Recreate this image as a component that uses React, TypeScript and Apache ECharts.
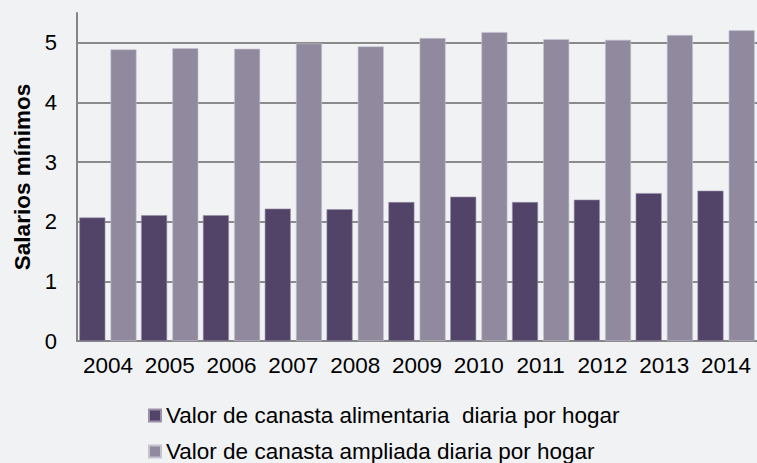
import React, { useEffect, useRef } from "react";
import * as echarts from "echarts";

const categories = ["2004", "2005", "2006", "2007", "2008", "2009", "2010", "2011", "2012", "2013", "2014"];
const alimentaria = [2.07, 2.11, 2.11, 2.22, 2.21, 2.33, 2.42, 2.33, 2.37, 2.48, 2.52];
const ampliada = [4.89, 4.91, 4.9, 4.99, 4.94, 5.08, 5.18, 5.06, 5.05, 5.13, 5.21];
const seriesNames = [
  "Valor de canasta alimentaria  diaria por hogar",
  "Valor de canasta ampliada diaria por hogar",
];
const yAxisTitle = "Salarios mínimos";

const FONT = "'Liberation Sans', Arial, sans-serif";
const FS = 22.5;

export default function App() {
  const ref = useRef<HTMLDivElement>(null);
  useEffect(() => {
    if (!ref.current) return;
    const chart = echarts.init(ref.current, undefined, { renderer: "svg" });
    const legendBase = {
      left: 148,
      itemWidth: 12,
      itemHeight: 12,
      itemGap: 10,
      padding: 0,
      icon: "rect",
      textStyle: { fontSize: FS, lineHeight: 22, color: "#000", fontFamily: FONT },
    };
    chart.setOption({
      animation: false,
      backgroundColor: "#f1f2f4",
      textStyle: { fontFamily: FONT },
      grid: { left: 77, top: 13, right: 0, bottom: 122, containLabel: false },
      legend: [
        { ...legendBase, top: 404, data: [seriesNames[0]] },
        { ...legendBase, top: 440, data: [seriesNames[1]] },
      ],
      xAxis: {
        type: "category",
        data: categories,
        boundaryGap: true,
        axisLine: { show: true, lineStyle: { color: "#868686", width: 2 } },
        axisTick: { show: false },
        axisLabel: { color: "#000", fontSize: FS, margin: 13, interval: 0, hideOverlap: false, fontFamily: FONT },
        splitLine: { show: false },
      },
      yAxis: {
        type: "value",
        min: 0,
        max: 5.5,
        interval: 1,
        name: yAxisTitle,
        nameLocation: "middle",
        nameGap: 40,
        nameRotate: 90,
        nameTextStyle: { fontSize: FS, fontWeight: "bold", color: "#000", fontFamily: FONT },
        axisLine: { show: true, lineStyle: { color: "#868686", width: 2 } },
        axisTick: { show: false },
        axisLabel: { color: "#000", fontSize: 22, margin: 20, showMaxLabel: false, fontFamily: FONT },
        splitLine: {
          show: true,
          showMaxLine: false,
          showMinLine: false,
          lineStyle: { color: "#8a8a8a", width: 2 },
        },
      },
      series: [
        {
          name: seriesNames[0],
          type: "bar",
          data: alimentaria,
          barWidth: 26,
          barGap: "20%",
          itemStyle: { color: "#524369", borderColor: "#9a90aa", borderWidth: 0.6 },
        },
        {
          name: seriesNames[1],
          type: "bar",
          data: ampliada,
          barWidth: 26,
          itemStyle: { color: "#918a9f", borderColor: "#c6c2cf", borderWidth: 0.6 },
        },
      ],
    });
    return () => chart.dispose();
  }, []);
  return (
    <div
      ref={ref}
      style={{ position: "fixed", left: 0, top: 0, width: 757, height: 463 }}
    />
  );
}
